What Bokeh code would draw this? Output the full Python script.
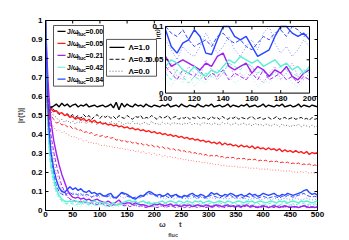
from bokeh.plotting import figure
from bokeh.models import Range1d, SingleIntervalTicker, Label, NumeralTickFormatter, LinearAxis, FixedTicker
from bokeh.embed import file_html
from bokeh.resources import INLINE
from bokeh.core.properties import value

# ---------------- data ----------------
T = [0, 2, 4, 6, 8] + list(range(10, 505, 5))

BK_S = [1.0, 0.72, 0.56, 0.52, 0.53,
        0.54, 0.55, 0.56, 0.545, 0.565, 0.55, 0.56, 0.545, 0.555, 0.56,
        0.545, 0.555, 0.55, 0.56, 0.545, 0.55, 0.555, 0.545, 0.55, 0.555,
        0.545, 0.55, 0.56, 0.54, 0.57, 0.53, 0.565, 0.545, 0.56, 0.55,
        0.545, 0.56, 0.55, 0.555, 0.545, 0.56, 0.55, 0.545, 0.555, 0.55,
        0.545, 0.555, 0.55, 0.56, 0.545, 0.55, 0.555, 0.545, 0.56, 0.55,
        0.545, 0.555, 0.55, 0.545, 0.56, 0.55, 0.545, 0.555, 0.55, 0.56,
        0.545, 0.55, 0.555, 0.545, 0.55, 0.56, 0.545, 0.555, 0.55, 0.545,
        0.555, 0.55, 0.56, 0.545, 0.55, 0.555, 0.545, 0.55, 0.56, 0.545,
        0.555, 0.55, 0.545, 0.555, 0.55, 0.56, 0.545, 0.55, 0.555, 0.545,
        0.55, 0.56, 0.545, 0.555, 0.55, 0.545, 0.555, 0.55, 0.545]
BK_D = [1.0, 0.70, 0.52, 0.50, 0.53,
        0.55, 0.53, 0.52, 0.505, 0.515, 0.50, 0.51, 0.495, 0.505, 0.49,
        0.50, 0.485, 0.505, 0.49, 0.50, 0.48, 0.495, 0.505, 0.485, 0.50,
        0.49, 0.50, 0.485, 0.495, 0.48, 0.50, 0.49, 0.485, 0.50, 0.49,
        0.48, 0.495, 0.49, 0.50, 0.48, 0.49, 0.485, 0.50, 0.49, 0.48,
        0.495, 0.485, 0.49, 0.50, 0.48, 0.49, 0.495, 0.48, 0.49, 0.485,
        0.495, 0.48, 0.49, 0.485, 0.495, 0.48, 0.49, 0.485, 0.48, 0.495,
        0.485, 0.49, 0.48, 0.495, 0.485, 0.48, 0.49, 0.485, 0.495, 0.48,
        0.49, 0.485, 0.48, 0.49, 0.495, 0.48, 0.485, 0.49, 0.48, 0.485,
        0.49, 0.48, 0.485, 0.495, 0.48, 0.485, 0.49, 0.48, 0.485, 0.49,
        0.48, 0.485, 0.49, 0.48, 0.485, 0.475, 0.49, 0.48, 0.485]
BK_O = [1.0, 0.68, 0.50, 0.47, 0.50,
        0.52, 0.50, 0.49, 0.47, 0.48, 0.465, 0.475, 0.46, 0.47, 0.455,
        0.47, 0.46, 0.475, 0.455, 0.47, 0.46, 0.465, 0.45, 0.47, 0.46,
        0.465, 0.45, 0.47, 0.46, 0.455, 0.47, 0.46, 0.45, 0.465, 0.455,
        0.47, 0.455, 0.46, 0.45, 0.465, 0.46, 0.45, 0.47, 0.455, 0.46,
        0.45, 0.465, 0.455, 0.46, 0.45, 0.465, 0.455, 0.46, 0.45, 0.46,
        0.455, 0.465, 0.45, 0.46, 0.455, 0.45, 0.465, 0.455, 0.46, 0.45,
        0.46, 0.455, 0.45, 0.465, 0.455, 0.46, 0.45, 0.455, 0.46, 0.45,
        0.455, 0.46, 0.45, 0.455, 0.445, 0.46, 0.45, 0.455, 0.445, 0.455,
        0.45, 0.445, 0.455, 0.45, 0.44, 0.455, 0.445, 0.45, 0.44, 0.45,
        0.445, 0.455, 0.44, 0.45, 0.445, 0.44, 0.45, 0.44, 0.445]

RD_S = [1.0, 0.70, 0.50, 0.48, 0.52,
        0.535, 0.52, 0.525, 0.51, 0.515, 0.50, 0.505, 0.49, 0.495, 0.48,
        0.49, 0.475, 0.485, 0.47, 0.48, 0.465, 0.475, 0.46, 0.465, 0.455,
        0.46, 0.45, 0.455, 0.445, 0.45, 0.44, 0.445, 0.435, 0.44, 0.43,
        0.435, 0.425, 0.43, 0.42, 0.425, 0.415, 0.42, 0.41, 0.415, 0.405,
        0.41, 0.40, 0.405, 0.395, 0.40, 0.39, 0.395, 0.385, 0.39, 0.38,
        0.385, 0.375, 0.38, 0.37, 0.375, 0.365, 0.37, 0.36, 0.365, 0.355,
        0.36, 0.35, 0.36, 0.345, 0.355, 0.345, 0.35, 0.34, 0.345, 0.335,
        0.345, 0.335, 0.34, 0.33, 0.34, 0.325, 0.335, 0.325, 0.33, 0.32,
        0.33, 0.32, 0.325, 0.315, 0.325, 0.31, 0.32, 0.31, 0.315, 0.305,
        0.315, 0.305, 0.31, 0.30, 0.31, 0.295, 0.305, 0.30, 0.305]
RD_D = [1.0, 0.66, 0.46, 0.44, 0.48,
        0.50, 0.48, 0.46, 0.465, 0.45, 0.455, 0.44, 0.445, 0.43, 0.435,
        0.42, 0.425, 0.41, 0.415, 0.405, 0.41, 0.395, 0.40, 0.39, 0.395,
        0.385, 0.39, 0.38, 0.385, 0.37, 0.375, 0.365, 0.37, 0.36, 0.365,
        0.355, 0.36, 0.35, 0.355, 0.345, 0.35, 0.34, 0.345, 0.335, 0.34,
        0.33, 0.335, 0.325, 0.33, 0.32, 0.325, 0.315, 0.32, 0.31, 0.315,
        0.305, 0.31, 0.30, 0.305, 0.295, 0.30, 0.29, 0.295, 0.285, 0.29,
        0.285, 0.29, 0.28, 0.285, 0.275, 0.28, 0.275, 0.28, 0.27, 0.275,
        0.27, 0.275, 0.265, 0.27, 0.265, 0.27, 0.26, 0.265, 0.26, 0.265,
        0.255, 0.26, 0.255, 0.26, 0.25, 0.255, 0.25, 0.255, 0.245, 0.25,
        0.245, 0.25, 0.24, 0.245, 0.24, 0.245, 0.235, 0.24, 0.235]
RD_O = [1.0, 0.62, 0.42, 0.40, 0.44,
        0.46, 0.44, 0.42, 0.425, 0.41, 0.415, 0.40, 0.395, 0.385, 0.39,
        0.375, 0.38, 0.365, 0.37, 0.355, 0.36, 0.35, 0.355, 0.345, 0.34,
        0.345, 0.335, 0.34, 0.33, 0.335, 0.325, 0.33, 0.32, 0.325, 0.315,
        0.32, 0.31, 0.315, 0.305, 0.31, 0.30, 0.305, 0.295, 0.30, 0.29,
        0.295, 0.285, 0.29, 0.28, 0.285, 0.275, 0.28, 0.27, 0.275, 0.265,
        0.27, 0.26, 0.265, 0.255, 0.26, 0.255, 0.25, 0.255, 0.245, 0.25,
        0.24, 0.245, 0.24, 0.235, 0.24, 0.23, 0.235, 0.23, 0.235, 0.225,
        0.23, 0.225, 0.23, 0.22, 0.225, 0.22, 0.225, 0.215, 0.22, 0.215,
        0.22, 0.21, 0.215, 0.21, 0.215, 0.205, 0.21, 0.205, 0.21, 0.20,
        0.205, 0.20, 0.205, 0.20, 0.205, 0.195, 0.20, 0.195, 0.20]

PU_S = [1.0, 0.86, 0.72, 0.62, 0.54,
        0.47, 0.37, 0.30, 0.24, 0.19, 0.15, 0.11, 0.085, 0.07, 0.065,
        0.07, 0.06, 0.065, 0.055, 0.06, 0.05, 0.055, 0.06, 0.05, 0.045,
        0.04, 0.05, 0.04, 0.035, 0.045, 0.055, 0.04, 0.035, 0.04, 0.04,
        0.03, 0.04, 0.035, 0.03, 0.03, 0.025, 0.02, 0.025, 0.035, 0.03,
        0.035, 0.03, 0.025, 0.03, 0.035, 0.025, 0.03, 0.025, 0.02, 0.03,
        0.025, 0.03, 0.02, 0.025, 0.03, 0.025, 0.02, 0.03, 0.025, 0.02,
        0.025, 0.03, 0.025, 0.02, 0.025, 0.03, 0.02, 0.025, 0.02, 0.025,
        0.02, 0.025, 0.03, 0.02, 0.025, 0.02, 0.015, 0.02, 0.025, 0.02,
        0.015, 0.02, 0.025, 0.02, 0.015, 0.02, 0.025, 0.02, 0.015, 0.02,
        0.02, 0.015, 0.02, 0.025, 0.02, 0.015, 0.02, 0.015, 0.02]
PU_D = [1.0, 0.82, 0.65, 0.54, 0.46,
        0.40, 0.31, 0.24, 0.18, 0.13, 0.10, 0.075, 0.06, 0.055, 0.05,
        0.045, 0.05, 0.04, 0.045, 0.035, 0.04, 0.035, 0.03, 0.04, 0.035,
        0.03, 0.025, 0.02, 0.03, 0.025, 0.035, 0.03, 0.025, 0.03, 0.02,
        0.025, 0.03, 0.02, 0.025, 0.02, 0.015, 0.02, 0.025, 0.02, 0.015,
        0.02, 0.025, 0.015, 0.02, 0.025, 0.02, 0.015, 0.02, 0.025, 0.015,
        0.02, 0.015, 0.025, 0.02, 0.015, 0.02, 0.025, 0.015, 0.02, 0.015,
        0.02, 0.025, 0.015, 0.02, 0.015, 0.02, 0.025, 0.02, 0.015, 0.02,
        0.015, 0.02, 0.025, 0.015, 0.02, 0.015, 0.02, 0.015, 0.02, 0.025,
        0.015, 0.02, 0.015, 0.02, 0.025, 0.015, 0.02, 0.015, 0.02, 0.015,
        0.02, 0.015, 0.02, 0.025, 0.015, 0.02, 0.015, 0.02, 0.015]
PU_O = [1.0, 0.80, 0.62, 0.50, 0.42,
        0.36, 0.27, 0.20, 0.15, 0.11, 0.085, 0.07, 0.06, 0.05, 0.045,
        0.05, 0.04, 0.045, 0.035, 0.04, 0.05, 0.035, 0.04, 0.03, 0.035,
        0.04, 0.03, 0.025, 0.035, 0.03, 0.045, 0.035, 0.025, 0.03, 0.04,
        0.03, 0.025, 0.035, 0.03, 0.02, 0.03, 0.04, 0.03, 0.025, 0.03,
        0.025, 0.03, 0.035, 0.025, 0.03, 0.02, 0.025, 0.03, 0.035, 0.025,
        0.03, 0.025, 0.02, 0.03, 0.025, 0.035, 0.025, 0.02, 0.03, 0.025,
        0.02, 0.025, 0.03, 0.025, 0.02, 0.03, 0.025, 0.02, 0.025, 0.03,
        0.025, 0.02, 0.025, 0.03, 0.02, 0.025, 0.02, 0.03, 0.025, 0.02,
        0.025, 0.02, 0.03, 0.025, 0.02, 0.025, 0.02, 0.025, 0.03, 0.02,
        0.025, 0.02, 0.025, 0.02, 0.03, 0.025, 0.02, 0.025, 0.02]

CY_S = [1.0, 0.74, 0.50, 0.38, 0.30,
        0.25, 0.17, 0.11, 0.08, 0.06, 0.05, 0.045, 0.05, 0.045, 0.05,
        0.045, 0.04, 0.05, 0.045, 0.04, 0.045, 0.05, 0.04, 0.045, 0.04,
        0.045, 0.035, 0.03, 0.04, 0.03, 0.03, 0.04, 0.045, 0.05, 0.055,
        0.045, 0.05, 0.04, 0.045, 0.05, 0.04, 0.045, 0.035, 0.04, 0.04,
        0.045, 0.05, 0.04, 0.045, 0.05, 0.045, 0.04, 0.05, 0.045, 0.04,
        0.05, 0.045, 0.04, 0.05, 0.045, 0.05, 0.04, 0.045, 0.05, 0.045,
        0.04, 0.045, 0.05, 0.045, 0.04, 0.05, 0.045, 0.04, 0.045, 0.05,
        0.045, 0.04, 0.05, 0.045, 0.05, 0.04, 0.045, 0.05, 0.045, 0.04,
        0.045, 0.05, 0.045, 0.04, 0.05, 0.045, 0.05, 0.04, 0.045, 0.05,
        0.045, 0.04, 0.05, 0.045, 0.05, 0.045, 0.04, 0.045, 0.05]
CY_D = [1.0, 0.72, 0.48, 0.36, 0.28,
        0.22, 0.15, 0.10, 0.07, 0.05, 0.04, 0.035, 0.04, 0.035, 0.03,
        0.035, 0.03, 0.04, 0.035, 0.03, 0.035, 0.03, 0.025, 0.035, 0.03,
        0.025, 0.02, 0.03, 0.025, 0.03, 0.035, 0.03, 0.045, 0.04, 0.045,
        0.04, 0.035, 0.03, 0.025, 0.03, 0.04, 0.035, 0.03, 0.025, 0.03,
        0.035, 0.03, 0.04, 0.035, 0.03, 0.035, 0.04, 0.03, 0.035, 0.03,
        0.035, 0.04, 0.03, 0.035, 0.03, 0.04, 0.035, 0.03, 0.035, 0.04,
        0.03, 0.035, 0.04, 0.035, 0.03, 0.035, 0.03, 0.04, 0.035, 0.03,
        0.035, 0.03, 0.04, 0.035, 0.03, 0.035, 0.04, 0.03, 0.035, 0.03,
        0.035, 0.04, 0.03, 0.035, 0.03, 0.035, 0.04, 0.035, 0.03, 0.035,
        0.03, 0.035, 0.04, 0.035, 0.03, 0.035, 0.03, 0.035, 0.03]
CY_O = [1.0, 0.70, 0.46, 0.34, 0.26,
        0.20, 0.13, 0.085, 0.06, 0.045, 0.035, 0.03, 0.025, 0.03, 0.025,
        0.02, 0.025, 0.03, 0.02, 0.025, 0.02, 0.03, 0.025, 0.02, 0.025,
        0.015, 0.025, 0.02, 0.015, 0.025, 0.02, 0.03, 0.02, 0.025, 0.03,
        0.02, 0.025, 0.015, 0.02, 0.025, 0.02, 0.03, 0.015, 0.02, 0.025,
        0.02, 0.025, 0.03, 0.02, 0.025, 0.02, 0.015, 0.025, 0.02, 0.03,
        0.025, 0.02, 0.03, 0.025, 0.02, 0.025, 0.03, 0.02, 0.025, 0.02,
        0.03, 0.025, 0.02, 0.025, 0.03, 0.02, 0.025, 0.02, 0.03, 0.025,
        0.02, 0.025, 0.03, 0.02, 0.025, 0.02, 0.025, 0.03, 0.02, 0.025,
        0.02, 0.03, 0.025, 0.02, 0.025, 0.03, 0.02, 0.025, 0.02, 0.025,
        0.03, 0.02, 0.025, 0.02, 0.025, 0.03, 0.02, 0.025, 0.02]

BL_S = [1.0, 0.78, 0.58, 0.45, 0.38,
        0.31, 0.22, 0.16, 0.12, 0.10, 0.095, 0.11, 0.125, 0.11, 0.12,
        0.105, 0.115, 0.10, 0.095, 0.105, 0.09, 0.095, 0.085, 0.09, 0.08,
        0.075, 0.085, 0.09, 0.07, 0.065, 0.08, 0.095, 0.09, 0.085, 0.075,
        0.065, 0.06, 0.07, 0.08, 0.075, 0.09, 0.10, 0.095, 0.085, 0.08,
        0.085, 0.075, 0.08, 0.09, 0.075, 0.08, 0.085, 0.075, 0.07, 0.08,
        0.075, 0.085, 0.09, 0.08, 0.075, 0.085, 0.08, 0.07, 0.08, 0.095,
        0.085, 0.09, 0.08, 0.075, 0.085, 0.08, 0.09, 0.085, 0.075, 0.08,
        0.085, 0.075, 0.08, 0.09, 0.08, 0.085, 0.075, 0.08, 0.09, 0.085,
        0.08, 0.085, 0.09, 0.08, 0.075, 0.085, 0.08, 0.09, 0.085, 0.08,
        0.085, 0.09, 0.095, 0.105, 0.11, 0.095, 0.085, 0.09, 0.08]
BL_D = [1.0, 0.76, 0.55, 0.42, 0.34,
        0.28, 0.19, 0.13, 0.10, 0.085, 0.08, 0.09, 0.095, 0.085, 0.09,
        0.08, 0.09, 0.075, 0.085, 0.08, 0.07, 0.08, 0.075, 0.085, 0.08,
        0.07, 0.075, 0.08, 0.065, 0.07, 0.08, 0.09, 0.085, 0.075, 0.07,
        0.065, 0.07, 0.075, 0.07, 0.08, 0.085, 0.09, 0.085, 0.08, 0.075,
        0.07, 0.075, 0.08, 0.07, 0.065, 0.075, 0.08, 0.07, 0.065, 0.075,
        0.07, 0.075, 0.08, 0.07, 0.065, 0.075, 0.07, 0.065, 0.075, 0.08,
        0.075, 0.07, 0.065, 0.075, 0.07, 0.075, 0.08, 0.07, 0.065, 0.075,
        0.07, 0.065, 0.075, 0.07, 0.075, 0.07, 0.065, 0.07, 0.075, 0.07,
        0.065, 0.07, 0.075, 0.07, 0.065, 0.075, 0.07, 0.08, 0.075, 0.07,
        0.075, 0.08, 0.085, 0.09, 0.08, 0.075, 0.07, 0.075, 0.07]
BL_O = [1.0, 0.74, 0.52, 0.40, 0.32,
        0.26, 0.18, 0.12, 0.095, 0.085, 0.09, 0.10, 0.09, 0.095, 0.085,
        0.09, 0.08, 0.085, 0.075, 0.08, 0.07, 0.075, 0.08, 0.07, 0.075,
        0.08, 0.07, 0.065, 0.075, 0.07, 0.08, 0.07, 0.065, 0.075, 0.08,
        0.07, 0.065, 0.06, 0.07, 0.075, 0.08, 0.085, 0.09, 0.08, 0.07,
        0.065, 0.07, 0.06, 0.065, 0.07, 0.06, 0.065, 0.07, 0.065, 0.06,
        0.065, 0.06, 0.07, 0.065, 0.06, 0.07, 0.065, 0.06, 0.065, 0.07,
        0.06, 0.065, 0.07, 0.06, 0.065, 0.06, 0.065, 0.07, 0.06, 0.065,
        0.06, 0.065, 0.06, 0.055, 0.065, 0.06, 0.065, 0.055, 0.06, 0.065,
        0.06, 0.055, 0.065, 0.06, 0.055, 0.06, 0.065, 0.06, 0.055, 0.06,
        0.065, 0.06, 0.055, 0.06, 0.065, 0.06, 0.055, 0.06, 0.055]

# inset (zoom of 100 <= t <= 200, finer sampling)
TI = list(range(100, 204, 4))
IN_BL_S = [0.095, 0.07, 0.06, 0.075, 0.08, 0.095, 0.085, 0.06, 0.058, 0.08, 0.1, 0.1, 0.085,
           0.08, 0.085, 0.07, 0.055, 0.06, 0.065, 0.085, 0.1, 0.1, 0.09, 0.085, 0.09, 0.08]
IN_BL_D = [0.1, 0.09, 0.085, 0.095, 0.08, 0.07, 0.075, 0.08, 0.07, 0.085, 0.09, 0.08, 0.075,
           0.08, 0.07, 0.065, 0.075, 0.085, 0.08, 0.09, 0.095, 0.085, 0.1, 0.095, 0.085, 0.09]
IN_BL_O = [0.08, 0.065, 0.05, 0.07, 0.06, 0.055, 0.07, 0.09, 0.075, 0.06, 0.07, 0.085, 0.065,
           0.055, 0.07, 0.08, 0.065, 0.09, 0.1, 0.075, 0.06, 0.07, 0.055, 0.065, 0.08, 0.07]
IN_PU_S = [0.055, 0.04, 0.045, 0.05, 0.045, 0.04, 0.035, 0.045, 0.04, 0.055, 0.06, 0.04, 0.035,
           0.04, 0.045, 0.03, 0.04, 0.035, 0.025, 0.035, 0.03, 0.04, 0.025, 0.02, 0.03, 0.035]
IN_PU_D = [0.04, 0.03, 0.02, 0.035, 0.03, 0.025, 0.035, 0.02, 0.03, 0.025, 0.035, 0.02, 0.03,
           0.025, 0.02, 0.03, 0.02, 0.035, 0.02, 0.025, 0.03, 0.02, 0.025, 0.015, 0.025, 0.02]
IN_PU_O = [0.03, 0.045, 0.025, 0.02, 0.04, 0.03, 0.025, 0.05, 0.035, 0.02, 0.03, 0.045, 0.025,
           0.03, 0.02, 0.04, 0.025, 0.015, 0.03, 0.04, 0.02, 0.03, 0.045, 0.025, 0.02, 0.03]
IN_CY_S = [0.04, 0.05, 0.045, 0.035, 0.03, 0.04, 0.03, 0.025, 0.035, 0.03, 0.04, 0.05, 0.045,
           0.055, 0.05, 0.045, 0.05, 0.04, 0.045, 0.05, 0.04, 0.045, 0.035, 0.04, 0.03, 0.04]
IN_CY_D = [0.03, 0.02, 0.035, 0.025, 0.015, 0.025, 0.02, 0.03, 0.025, 0.035, 0.03, 0.045, 0.04,
           0.035, 0.045, 0.04, 0.03, 0.035, 0.025, 0.03, 0.04, 0.035, 0.03, 0.025, 0.035, 0.03]
IN_CY_O = [0.02, 0.01, 0.025, 0.015, 0.03, 0.01, 0.02, 0.015, 0.025, 0.02, 0.03, 0.025, 0.015,
           0.02, 0.03, 0.025, 0.01, 0.02, 0.015, 0.025, 0.02, 0.03, 0.015, 0.01, 0.02, 0.025]

J_LABELS = ["0.00", "0.05", "0.21", "0.42", "0.84"]
LAMBDA_LABELS = ["1.0", "0.5", "0.0"]
X_TICKS = list(range(0, 550, 50))
Y_TICKS = [i / 10 for i in range(11)]
X_TICKS_INSET = [100, 120, 140, 160, 180, 200]
Y_TICKS_INSET = [0, 0.05, 0.1]
Y_TICK_LABELS_INSET = ["0", "0.05", "0.1"]

# ---------------- styles ----------------
COLORS = ["#000000", "#ff1a1a", "#a020f0", "#5cf0d2", "#2645ff"]
STYLES = [dict(line_width=1.4, line_dash="solid", line_alpha=1.0),
          dict(line_width=1.0, line_dash="4 2", line_alpha=0.95),
          dict(line_width=1.0, line_dash="1 2", line_alpha=0.6)]
FONT = "Liberation Sans"
NB = "\u00a0"

MAIN = [[BK_S, BK_D, BK_O], [RD_S, RD_D, RD_O], [PU_S, PU_D, PU_O],
        [CY_S, CY_D, CY_O], [BL_S, BL_D, BL_O]]
INSET = [[IN_PU_S, IN_PU_D, IN_PU_O], [IN_CY_S, IN_CY_D, IN_CY_O],
         [IN_BL_S, IN_BL_D, IN_BL_O]]
INSET_COLORS = [COLORS[2], COLORS[3], COLORS[4]]

# page-pixel -> main data helpers (positions only)
FL, FR, FT, FB = 45.0, 317.0, 20.0, 211.0
def X(px):
    return (px - FL) / (FR - FL) * 500.0
def Y(py):
    return (FB - py) / (FB - FT)

p = figure(width=337, height=240, x_range=Range1d(0, 500), y_range=Range1d(0, 1),
           output_backend="svg", toolbar_location=None,
           min_border_left=45, min_border_right=20, min_border_top=20, min_border_bottom=27)
p.grid.visible = False
p.outline_line_color = "black"
p.outline_line_width = 1
p.background_fill_color = "white"
p.border_fill_color = "white"

# second (label-only) axis below, carrying the subscript of the x label
sub_axis = LinearAxis(ticker=FixedTicker(ticks=[]), axis_line_color=None,
                      major_tick_line_color=None, minor_tick_line_color=None,
                      axis_label="fluc" + NB * 11, axis_label_text_font=FONT,
                      axis_label_text_font_style="bold", axis_label_text_font_size="5.5px",
                      axis_label_standoff=0, axis_label_text_line_height=0.8,
                      major_label_standoff=0)
p.add_layout(sub_axis, "below")

main_x = p.below[0]
main_x.ticker = SingleIntervalTicker(interval=50, num_minor_ticks=0)
p.yaxis.ticker = SingleIntervalTicker(interval=0.1, num_minor_ticks=0)
p.yaxis.formatter = NumeralTickFormatter(format="0.[0]")
for ax in (main_x, p.left[0]):
    ax.major_tick_in = 3
    ax.major_tick_out = 0
    ax.minor_tick_line_color = None
    ax.axis_line_color = "black"
    ax.major_tick_line_color = "black"
    ax.major_label_text_font = FONT
    ax.major_label_text_font_style = "bold"
    ax.major_label_text_font_size = "8px"
    ax.major_label_text_color = "black"
    ax.major_label_standoff = 3
    ax.axis_label_text_font = FONT
    ax.axis_label_text_font_style = "bold"
    ax.axis_label_text_font_size = "8px"
p.left[0].axis_label = "|r(t)|"
p.left[0].axis_label_standoff = 3
main_x.major_label_standoff = 1
main_x.major_label_text_line_height = 1.0
main_x.axis_label = "ω" + NB * 6 + "t" + NB * 10
main_x.axis_label_standoff = 0
main_x.axis_label_text_line_height = 0.8

# top / right inward ticks (box style)
p.segment(x0=X_TICKS, y0=[1.0] * len(X_TICKS), x1=X_TICKS,
          y1=[1.0 - 3.0 / (FB - FT)] * len(X_TICKS), line_color="black", line_width=1)
p.segment(x0=[500.0] * len(Y_TICKS), y0=Y_TICKS, x1=[500.0 - 3.0 * 500 / (FR - FL)] * len(Y_TICKS),
          y1=Y_TICKS, line_color="black", line_width=1)

# main curves: dotted, dashed, solid; blue last
for s in (2, 1, 0):
    for j in range(5):
        p.line(T, MAIN[j][s], line_color=COLORS[j], **STYLES[s])

def lab(x, y, text, size, align="left", angle=0.0, base="middle"):
    p.add_layout(Label(x=x, y=y, text=text, text_font=FONT, text_font_style="bold",
                       text_font_size=size, text_align=align, text_baseline=base,
                       angle=angle, text_color="black"))

# legend 1
p.quad(left=[X(53)], right=[X(103)], top=[Y(25)], bottom=[Y(86)],
       fill_color="white", line_color="#555555", line_width=1)
for j, yc in enumerate([31, 43, 55, 67, 79]):
    p.line([X(57), X(65)], [Y(yc), Y(yc)], line_color=COLORS[j], line_width=1.2)
    lab(X(66.5), Y(yc), "J/ω", "7px")
    lab(X(76.5), Y(yc + 2.5), "fluc", "5px")
    lab(X(85), Y(yc), "=" + J_LABELS[j], "7px")

# legend 2
p.quad(left=[X(106)], right=[X(156)], top=[Y(39)], bottom=[Y(76)],
       fill_color="white", line_color="#555555", line_width=1)
for s, yc in enumerate([47, 59, 71]):
    p.line([X(109), X(124)], [Y(yc), Y(yc)], line_color="black", **STYLES[s])
    lab(X(128), Y(yc), "Λ=" + LAMBDA_LABELS[s], "8px")

# inset
ins = p.subplot(x_source=Range1d(100, 200), y_source=Range1d(0, 0.1),
                x_target=Range1d(X(165), X(309)), y_target=Range1d(Y(93), Y(26)))
ins.quad(left=[100], right=[200], bottom=[0], top=[0.1],
         fill_color="white", line_color=None)
for s in (2, 1, 0):
    for k in range(3):
        ins.line(TI, INSET[k][s], line_color=INSET_COLORS[k], **STYLES[s])
ins.quad(left=[100], right=[200], bottom=[0], top=[0.1],
         fill_color=None, line_color="black", line_width=1)
xt = X_TICKS_INSET[1:-1]
ins.segment(x0=xt, y0=[0] * len(xt), x1=xt, y1=[0.0045] * len(xt), line_color="black")
ins.segment(x0=xt, y0=[0.1] * len(xt), x1=xt, y1=[0.0955] * len(xt), line_color="black")
ins.segment(x0=[100, 200], y0=[0.05, 0.05], x1=[102, 198], y1=[0.05, 0.05], line_color="black")
ins.text(x=X_TICKS_INSET, y=[0] * len(X_TICKS_INSET), text=[str(v) for v in X_TICKS_INSET],
         y_offset=3, text_align="center", text_baseline="top",
         text_font=value(FONT), text_font_style="bold", text_font_size="8px", text_color="black")
ins.text(x=[100] * 3, y=Y_TICKS_INSET, text=Y_TICK_LABELS_INSET, x_offset=-2,
         text_align="right", text_baseline="middle",
         text_font=value(FONT), text_font_style="bold", text_font_size="8px", text_color="black")
p.add_layout(Label(x=X(157), y=Y(33), text="|r(t)|", text_font=FONT, text_font_style="bold",
                   text_font_size="6px", text_align="center", text_baseline="middle",
                   angle=1.5708, text_color="black"))

open("out.html", "w").write(file_html(p, INLINE))
